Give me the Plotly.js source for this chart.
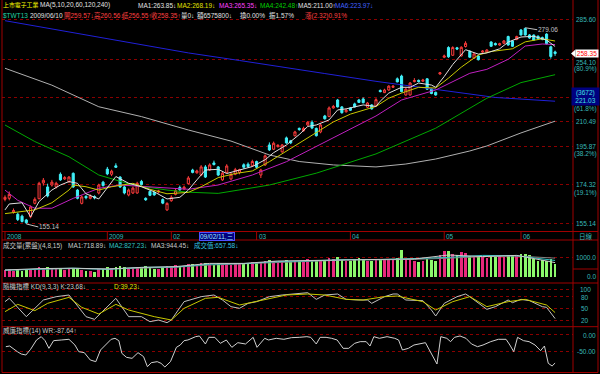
<!DOCTYPE html>
<html><head><meta charset="utf-8">
<script src="https://cdn.plot.ly/plotly-3.0.1.min.js"></script>
<style>html,body{margin:0;padding:0;background:#000;}#chart{width:600px;height:374px;}</style>
</head><body><div id="chart"></div>
<script>
// ---------- DATA ----------
const open = [167.0,167.5,160.8,159.7,158.8,157.0,158.5,165.0,167.3,175.4,173.3,174.3,173.3,180.0,177.5,176.0,180.5,171.7,165.0,168.5,
167.5,168.4,170.2,175.8,182.8,180.0,184.6,178.5,173.3,169.2,170.2,170.2,176.2,167.5,171.0,170.5,170.7,166.9,161.8,166.3,
169.5,173.0,172.3,175.0,182.3,180.8,179.6,184.0,182.3,186.2,184.0,177.0,181.0,177.5,180.0,181.0,185.2,185.5,184.7,187.0,
179.6,185.1,196.5,194.0,195.5,192.5,200.7,199.0,202.0,206.5,205.0,208.6,210.3,206.5,204.3,214.3,214.0,219.5,224.8,220.2,
217.0,219.5,222.2,224.8,225.5,220.0,221.5,220.8,231.3,229.8,231.6,233.5,239.5,241.5,228.2,228.2,237.5,238.4,237.8,239.5,
232.2,230.0,243.0,255.5,263.0,257.0,262.8,256.5,263.8,260.0,254.8,256.4,259.4,259.4,267.4,266.2,265.0,266.4,271.8,268.2,
269.4,277.2,278.5,273.1,273.0,272.0,271.0,273.8,263.6,259.57];
const high = [169.0,171.0,162.5,160.5,159.5,157.5,164.0,168.0,176.0,178.0,175.0,177.0,176.0,181.0,179.0,179.0,181.0,172.2,169.0,169.0,
169.5,169.0,175.0,176.5,184.0,182.5,186.0,179.0,174.0,172.5,173.5,176.0,177.0,168.0,171.5,171.0,171.8,167.5,165.5,169.0,
172.5,174.0,174.0,179.0,183.0,182.5,185.0,185.0,186.0,187.5,184.5,181.5,185.5,181.0,183.5,183.0,186.0,186.5,188.0,187.5,
183.0,191.0,198.0,198.5,197.0,197.0,201.5,199.5,205.0,207.0,207.5,211.0,211.5,207.0,209.5,215.0,220.5,221.5,225.5,220.8,
219.0,220.0,223.0,225.5,226.5,223.5,222.0,226.0,232.0,232.5,235.0,235.0,240.5,242.5,233.0,237.2,240.0,239.0,239.5,240.0,
232.8,230.5,244.5,257.5,264.0,264.0,263.5,264.0,268.0,261.0,258.8,257.0,261.0,261.8,268.0,267.0,266.8,269.0,272.5,268.8,
272.5,278.0,279.06,273.8,273.6,272.8,271.8,274.5,264.4,260.56];
const low = [166.0,166.5,160.0,156.5,155.8,155.14,157.8,164.5,167.0,174.0,168.0,173.5,172.5,176.5,177.0,175.5,172.8,167.0,164.5,167.0,
167.0,167.0,169.5,173.5,179.5,179.0,183.5,172.8,169.5,168.5,169.7,169.8,174.0,166.2,168.6,168.8,170.0,164.6,161.3,165.8,
169.0,171.3,171.8,174.6,180.5,180.3,179.0,178.0,181.8,184.8,179.0,176.5,180.5,176.8,179.5,180.0,183.0,183.5,184.0,183.0,
178.0,184.5,193.0,193.5,195.0,192.0,197.2,197.0,201.5,205.0,204.5,208.0,206.0,201.5,203.5,212.0,213.5,219.0,219.8,215.8,
216.5,217.5,219.8,222.8,222.5,219.5,218.4,220.2,230.0,229.5,231.0,233.0,237.0,230.0,227.7,227.8,237.0,237.0,237.3,231.6,
228.7,227.7,242.5,254.8,255.0,256.5,261.0,256.0,263.0,255.0,254.3,253.0,258.8,258.8,263.4,264.6,264.4,265.8,264.4,263.4,
268.8,272.6,272.5,270.0,268.4,269.4,268.8,265.4,254.4,256.55];
const close = [168.0,169.5,161.5,157.2,156.3,155.7,163.2,167.0,175.2,176.8,168.7,175.8,175.2,177.0,178.2,178.5,173.3,167.5,168.2,167.8,
168.6,167.7,174.3,174.0,180.2,181.7,183.8,173.3,170.2,171.7,172.7,175.2,174.6,166.8,169.0,169.2,171.2,165.1,165.0,168.0,
171.5,171.8,173.2,178.0,181.0,181.8,184.0,178.5,185.1,185.3,179.6,180.6,184.5,180.0,182.5,182.5,183.8,184.2,187.0,183.8,
182.3,190.2,193.6,197.5,196.3,196.5,197.7,197.7,204.3,205.8,206.5,210.3,206.7,202.0,208.6,212.5,219.5,220.5,220.2,216.4,
218.0,218.0,220.2,223.2,223.0,222.8,218.9,225.0,230.5,231.6,234.3,234.3,237.3,230.5,232.2,236.5,238.2,237.6,238.6,232.2,
229.2,228.2,243.9,256.4,255.8,263.0,261.8,263.2,266.4,255.5,258.0,253.6,260.2,261.0,264.0,265.2,266.0,268.2,265.0,264.0,
271.8,273.1,273.1,270.6,269.0,270.0,269.4,266.0,256.03,258.35];
const volume = [330,380,300,350,320,400,420,380,520,450,480,430,400,470,350,380,460,420,340,300,
280,260,380,400,500,460,520,540,480,430,450,520,480,560,470,420,400,500,560,520,
580,560,520,640,660,600,700,720,650,620,700,640,680,600,720,700,650,700,740,720,
680,820,860,780,760,800,840,760,820,780,800,880,860,780,840,820,960,900,1000,860,
780,820,900,960,880,820,800,900,880,840,900,860,950,1350,880,900,780,760,800,880,
860,820,1100,1300,1320,1150,1080,1250,1200,1050,980,1000,1020,960,1050,1000,1040,980,1100,1120,
1060,1150,1160,1080,900,820,860,780,900,658];

// moving averages (bar index, value)
const ma5Idx = [0,1,4,6,8,11,13,15,17,19,22,24,26,29,32,35,38,41,43,45,47,50,52,55,58,61,63,66,69,71,73,76,78,80,84,87,88,90,93,95,97,100,101,103,105,108,111,113,116,118,121,124,127,129];
const ma5Val = [161.8,164.7,165.3,158.5,165.9,171.7,174.3,176.1,175.2,169.8,167.2,172.6,178.8,175.2,173.4,170.8,167.2,168.0,171.7,177.0,182.3,182.7,180.4,182.3,184.2,188.0,192.0,196.5,202.7,207.7,208.6,211.8,218.2,218.9,221.5,220.5,224.0,229.5,233.5,233.5,236.5,235.1,233.5,241.2,250.0,261.3,257.9,258.8,262.0,267.3,271.4,272.0,269.0,263.85];
const ma10Idx = [0,7,11,15,16,19,22,25,30,34,38,43,46,50,54,58,62,66,70,73,77,81,87,90,93,97,101,104,107,111,114,119,122,126,129];
const ma10Val = [160.0,161.8,165.3,171.7,174.3,173.4,171.7,173.4,175.2,172.1,169.8,170.5,173.4,178.2,180.4,181.8,186.9,192.9,198.8,204.0,210.5,215.5,220.5,226.0,229.5,233.5,233.0,240.0,248.0,257.2,259.9,262.0,267.5,270.0,268.19];
const ma20Idx = [0,3,7,11,16,22,27,34,43,50,58,66,73,79,87,93,101,109,113,118,122,126,129];
const ma20Val = [171.7,166.5,162.6,162.6,167.5,172.6,174.3,173.4,172.1,174.3,179.6,186.9,195.5,203.5,214.3,224.8,231.6,243.5,246.4,253.9,264.2,265.8,265.35];
const ma60Idx = [0,7,15,22,30,38,43,50,62,73,79,87,101,113,121,129];
const ma60Val = [208.6,198.5,189.7,179.6,174.3,171.7,170.6,170.0,174.3,180.6,185.1,191.3,206.6,226.0,236.8,242.48];
const ma120Idx = [0,11,22,32,43,53,62,69,77,87,94,101,109,113,121,129];
const ma120Val = [247.2,235.0,220.3,213.9,205.5,198.8,190.7,187.0,185.1,184.0,185.6,188.4,193.0,195.9,203.7,211.0];
const ma240Idx = [0,10,20,30,43,55,65,75,87,100,115,129];
const ma240Val = [285.0,278.7,272.7,266.8,258.8,253.0,248.3,243.3,237.7,232.2,226.5,223.97];

const vmIdx = [0,8,16,24,32,40,48,56,64,72,80,88,96,104,112,120,129];
const vm1 = [350,420,440,400,480,520,680,680,800,830,880,880,900,1100,1020,1080,718.89];
const vm2 = [340,380,440,380,480,500,640,670,770,810,870,870,920,980,1080,1060,827.23];
const vm3 = [350,370,420,400,460,490,600,660,730,790,850,860,880,940,1020,1050,944.45];

const kIdx = [0,1,5,9,12,15,19,21,26,29,32,34,36,38,39,42,46,49,51,53,55,57,59,62,65,70,71,73,75,78,80,83,85,86,89,91,92,94,98,100,101,103,106,108,109,113,115,118,119,121,123,126,127,129];
const kVal = [67.3,75.9,28.6,71.6,80.2,84.5,28.6,21.7,75.9,28.6,28.6,15.7,20.0,13.1,20.0,67.3,80.2,84.5,71.6,54.4,50.1,63.0,67.3,80.2,84.5,88.8,90.5,73.3,84.5,87.1,73.3,71.6,71.6,63.0,80.2,87.1,87.1,71.6,69.9,45.8,30.3,63.0,80.2,87.1,80.2,47.5,54.4,71.6,64.7,73.3,69.9,54.4,52.7,23.68];
const dIdx = [0,3,7,10,15,18,22,26,29,35,39,42,47,50,55,58,62,66,71,75,80,84,89,92,98,101,105,109,113,118,122,127,129];
const dVal = [41.5,60.4,44.1,63.0,78.5,52.7,35.5,60.4,45.8,28.6,20.0,50.1,75.9,78.5,58.7,65.6,75.9,84.5,87.1,84.5,73.3,71.6,80.2,81.9,67.3,45.8,67.3,80.2,54.4,67.3,73.3,58.7,39.23];
const wrIdx = [0.2,1.1,2.9,3.8,4.9,6.0,7.4,8.5,9.4,10.3,11.4,12.3,13.2,15.0,16.4,17.3,18.6,20.0,21.3,22.4,23.6,24.9,25.8,26.7,27.4,28.5,29.8,31.2,32.5,33.4,34.3,35.7,36.6,37.5,38.8,40.2,41.1,42.0,42.9,43.8,44.7,45.6,47.0,47.8,49.2,50.5,51.9,53.2,54.6,56.4,58.2,59.1,60.9,61.8,63.6,65.4,67.2,69.0,70.8,71.7,73.0,73.9,75.3,76.6,77.9,79.3,80.6,82.0,83.3,84.7,85.6,86.5,87.8,89.6,91.4,92.3,93.2,94.6,95.9,98.6,100.4,101.3,102.2,103.6,104.5,105.4,106.7,108.1,109.4,110.8,112.1,113.9,115.7,117.5,118.4,119.3,120.2,121.6,122.9,124.3,125.6,126.5,127.4,128.3,129];
const wrVal = [-36.5,-34.4,-52.1,-59.4,-62.5,-44.8,-15.6,-5.2,-17.7,-41.7,-17.7,-15.6,-15.6,-13.5,-31.3,-52.1,-55.2,-78.1,-83.3,-46.9,-31.3,-13.5,-10.4,-17.7,-57.3,-69.8,-72.9,-55.2,-67.7,-99.0,-86.5,-83.3,-88.5,-100,-83.3,-38.5,-31.3,-17.7,-15.6,-10.4,-5.2,-3.1,-28.1,-7.3,-7.3,-26.0,-15.6,-38.5,-24.0,-28.1,-7.3,-38.5,-10.4,-15.6,-10.4,-13.5,-8.3,-7.3,-5.2,-7.3,-28.1,-7.3,-7.3,-10.4,-15.6,-41.7,-41.7,-26.0,-20.8,-20.8,-34.4,-5.2,-10.4,-5.2,-10.4,-15.6,-46.9,-41.7,-31.3,-24.0,-67.7,-90.6,-5.2,-10.4,-20.8,-7.3,-3.1,-10.4,-28.1,-36.5,-31.3,-20.8,-13.5,-13.5,-31.3,-52.1,-7.3,-17.7,-20.8,-31.3,-49.0,-34.4,-88.5,-96.9,-87.64];

const monthIdx = [0,24,39,59,81,103,121];
const monthLbl = ['2008','2009','02','03','04','05','06'];
const priceTicks = [285.60,254.10,226.25,210.49,195.87,174.32,155.14];
const priceTickText = ['285.60','254.10','','210.49','195.87','174.32','155.14'];
const fibText = {254.10:'(80.9%)',226.25:'(61.8%)',195.87:'(38.2%)',174.32:'(19.1%)'};

// ---------- DRAW ----------
const F = "'Liberation Sans','Noto Sans CJK TC',sans-serif";
const FS = 6.5, FC = 5.9;
const PX = v => v/600, PY = v => 1 - v/374;
const xs = close.map((_, i) => i);
const RED = '#a00000', GRID = '#8a0000', TEAL = '#38b8b8';

const line = (x, y, color, yaxis) => ({type:'scatter', mode:'lines', x, y, yaxis, line:{color, width:1}, hoverinfo:'skip'});

const traces = [
  line(ma240Idx, ma240Val, '#2020d8', 'y'),
  line(ma120Idx, ma120Val, '#b0b0b0', 'y'),
  line(ma60Idx, ma60Val, '#00a800', 'y'),
  line(ma20Idx, ma20Val, '#c020c0', 'y'),
  line(ma10Idx, ma10Val, '#c8c800', 'y'),
  line(ma5Idx, ma5Val, '#e0e0e0', 'y'),
  {type:'candlestick', x:xs, open, high, low, close, yaxis:'y', whiskerwidth:0,
   increasing:{line:{color:'#ff3c3c', width:1}, fillcolor:'#000000'},
   decreasing:{line:{color:'#40f0f8', width:1}, fillcolor:'#40f0f8'}, hoverinfo:'skip'},
  {type:'bar', x:xs, y:volume, yaxis:'y2', width:0.62,
   marker:{color: close.map((c,i)=> c >= open[i] ? '#e8287c' : '#8cf86c'), line:{width:0}}, hoverinfo:'skip'},
  line(vmIdx, vm3, '#808080', 'y2'),
  line(vmIdx, vm2, '#30c0c0', 'y2'),
  line(vmIdx, vm1, '#c8c8c8', 'y2'),
  line(kIdx, kVal, '#c0c0c0', 'y3'),
  line(dIdx, dVal, '#c8c800', 'y3'),
  line(wrIdx, wrVal, '#d0d0d0', 'y4')
];

function T(xp, yp, text, color, size, extra) {
  return Object.assign({xref:'paper', yref:'paper', x:PX(xp), y:PY(yp), xanchor:'left', yanchor:'middle',
    text, showarrow:false, borderpad:0, font:{family:F, size:size||FS, color}}, extra||{});
}
const W = '#e0e0e0', R = '#ff4040';
const ann = [
  T(2,5.5,'上市電子工業','#ffff00',FC),
  T(39,5.5,'MA(5,10,20,60,120,240)',W),
  T(137,5.5,'MA1:263.85↓',W),
  T(176,5.5,'MA2:268.19↓','#e0e000'),
  T(218,5.5,'MA3:265.35↓','#ff40ff'),
  T(259,5.5,'MA4:242.48↑','#00d000'),
  T(297,5.5,'MA5:211.00↑',W),
  T(334,5.5,'MA6:223.97↓','#4060ff'),
  T(2,15.5,'$TWT13','#20d0a0'),
  T(29,15.5,'2009/06/10',W),
  T(63,15.5,'開259.57↓',R),
  T(93,15.5,'高260.56↓',R),
  T(121,15.5,'低256.55↑',R),
  T(150,15.5,'收258.35↑',R),
  T(180,15.5,'量0↓',W),
  T(196,15.5,'額6575800↓',W),
  T(239,15.5,'換0.00%',W),
  T(268,15.5,'振1.57%',W),
  T(304,15.5,'漲(2.32)0.91%',R),
  T(2,245.5,'成交量(累盤)(4,8,15)','#c8c8c8'),
  T(67,245.5,'MA1:718.89↓','#c8c8c8'),
  T(108,245.5,'MA2:827.23↓','#30c0c0'),
  T(150,245.5,'MA3:944.45↓','#c8c8c8'),
  T(193,245.5,'成交值:657.58↓','#30c0e0'),
  T(2,286.5,'隨機指標 KD(9,3,3) K:23.68↓','#c8c8c8'),
  T(113,286.5,'D:39.23↓','#e0e000'),
  T(2,330.5,'威廉指標(14) WR:-87.64↑','#c8c8c8'),
  // right axis labels
  T(585.5,236,'日線',TEAL,FS,{xanchor:'center'}),
  T(597,257,'1000.0',TEAL,FS,{xanchor:'right'}),
  T(597,276,'0.0',TEAL,FS,{xanchor:'right'}),
  T(585,289,'100',TEAL,FS,{xanchor:'center'}),
  T(585,297,'80',TEAL,FS,{xanchor:'center'}),
  T(585,308.5,'50',TEAL,FS,{xanchor:'center'}),
  T(585,320,'20',TEAL,FS,{xanchor:'center'}),
  T(597,335,'0.00',TEAL,FS,{xanchor:'right'}),
  T(597,351,'-50.00',TEAL,FS,{xanchor:'right'})
];
const valShift = {254.10:-3};
const fibShift = {254.10:-10, 226.25:-11, 195.87:-8, 174.32:-8};
priceTicks.forEach((v, i) => {
  if (priceTickText[i]) ann.push({xref:'paper', yref:'y', x:PX(597), y:Math.log10(v), yshift:valShift[v]||0, xanchor:'right', yanchor:'middle', showarrow:false,
    text:priceTickText[i], borderpad:0, font:{family:F, size:FS, color:TEAL}});
  if (fibText[v]) ann.push({xref:'paper', yref:'y', x:PX(597.5), y:Math.log10(v), yshift:fibShift[v], xanchor:'right', yanchor:'middle',
    showarrow:false, text:fibText[v], borderpad:0, font:{family:F, size:FS, color:TEAL}});
});
// highlight boxes
ann.push({xref:'paper', yref:'paper', x:PX(585.5), y:PY(96.5), xanchor:'center', yanchor:'middle', showarrow:false,
  text:'(3672)<br>221.03', bgcolor:'#000080', borderpad:1, width:25, font:{family:F, size:FS, color:'#40e0e0'}});
ann.push({xref:'paper', yref:'paper', x:PX(575), y:PY(53.5), xanchor:'left', yanchor:'middle', showarrow:false,
  text:'258.35', bgcolor:'#ffffff', borderpad:0, width:22, font:{family:F, size:FS, color:'#ff0000'}});
// month labels
monthIdx.forEach((m, i) => ann.push({xref:'x', yref:'paper', x:m, y:PY(236), xanchor:'left', yanchor:'middle', xshift:1,
  showarrow:false, text:monthLbl[i], borderpad:0, font:{family:F, size:FS, color:TEAL}}));
ann.push({xref:'x', yref:'paper', x:46, y:PY(236), xanchor:'left', yanchor:'middle', xshift:-2, showarrow:false,
  text:'09/02/11,三', bgcolor:'#000080', bordercolor:'#5050ff', borderwidth:1, borderpad:0,
  font:{family:F, size:FS, color:'#a0e8ff'}});
// low / high marks
ann.push({xref:'x', yref:'y', x:5, y:Math.log10(155.14), text:'155.14', showarrow:true, arrowhead:0, arrowwidth:1,
  arrowcolor:'#c0c0c0', ax:12, ay:3, xanchor:'left', borderpad:0, font:{family:F, size:FS, color:'#c0c0c0'}});
ann.push({xref:'x', yref:'y', x:122, y:Math.log10(279.06), text:'279.06', showarrow:true, arrowhead:0, arrowwidth:1,
  arrowcolor:'#c0c0c0', ax:12, ay:2, xanchor:'left', borderpad:0, font:{family:F, size:FS, color:'#c0c0c0'}});

const shapes = [];
const hl = (y, x0, x1) => shapes.push({type:'line', xref:'paper', yref:'paper', x0:PX(x0), x1:PX(x1), y0:PY(y), y1:PY(y), line:{color:RED, width:1}});
const vl = (x, y0, y1) => shapes.push({type:'line', xref:'paper', yref:'paper', x0:PX(x), x1:PX(x), y0:PY(y0), y1:PY(y1), line:{color:RED, width:1}});
[231.5, 240, 283, 326.7, 372.5].forEach(y => hl(y, 2, 598));
hl(269, 573, 598);
[2, 573, 598].forEach(x => vl(x, 0, 372.5));
monthIdx.forEach(m => shapes.push({type:'line', xref:'x', yref:'paper', x0:m, x1:m, y0:PY(231.5), y1:PY(240), line:{color:RED, width:1}}));
shapes.push({type:'path', xref:'paper', yref:'paper', fillcolor:'#ffffff', line:{width:0},
  path:`M ${PX(571)} ${PY(53.5)} L ${PX(575.5)} ${PY(49.5)} L ${PX(575.5)} ${PY(57.5)} Z`});

const yBase = {showticklabels:false, ticks:'', zeroline:false, showline:false, gridcolor:GRID, griddash:'dot', gridwidth:1, tickmode:'array', fixedrange:true};
const layout = {
  width:600, height:374, margin:{l:0, r:0, t:0, b:0}, paper_bgcolor:'#000', plot_bgcolor:'#000',
  showlegend:false, dragmode:false, bargap:0,
  xaxis:{domain:[PX(2), PX(573)], range:[-0.7, 133.2], showgrid:false, zeroline:false, showticklabels:false, ticks:'',
         rangeslider:{visible:false}, anchor:'y4', fixedrange:true},
  yaxis:Object.assign({}, yBase, {domain:[PY(231), 1], type:'log', range:[Math.log10(151.9), Math.log10(303.2)], tickvals:priceTicks}),
  yaxis2:Object.assign({}, yBase, {domain:[PY(283), PY(240)], range:[-300, 1850], tickvals:[1000]}),
  yaxis3:Object.assign({}, yBase, {domain:[PY(326.7), PY(283)], range:[2.7, 115.5], tickvals:[20,50,80,100]}),
  yaxis4:Object.assign({}, yBase, {domain:[PY(372), PY(326.7)], range:[-115.6, 25.9], tickvals:[0,-50]}),
  annotations:ann, shapes
};
Plotly.newPlot('chart', traces, layout, {staticPlot:true, displayModeBar:false});
</script></body></html>
